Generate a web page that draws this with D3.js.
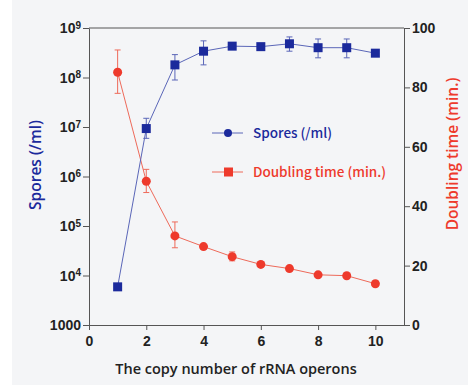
<!DOCTYPE html>
<html>
<head>
<meta charset="utf-8">
<script src="https://cdn.jsdelivr.net/npm/d3@7"></script>
<style>
  body { margin: 0; background: #ffffff; }
  svg { display: block; }
  .tick text { font-family: "Liberation Sans", Arial, sans-serif; font-weight: bold; font-size: 14px; fill: #222; }
  .axis path, .axis line { stroke: #555; stroke-width: 1; }
</style>
</head>
<body>
<div class="container"></div>
<script>
const container = d3.select(".container");

const W = 468, H = 385;
const margin = { top: 28, right: 64, bottom: 60, left: 89 };
const width = W - margin.left - margin.right,
    height = H - margin.top - margin.bottom;

// copy number of rRNA operons
const operons = [1, 2, 3, 4, 5, 6, 7, 8, 9, 10];
// spores per ml, with lower / upper ends of the error bars (null = no bar visible)
const spores     = [5.9e3, 9.3e6, 1.8e8, 3.4e8, 4.3e8, 4.2e8, 4.8e8, 4.0e8, 4.0e8, 3.1e8];
const sporesLow  = [null,  5.9e6, 8.9e7, 1.8e8, null,  null,  3.4e8, 2.5e8, 2.5e8, null];
const sporesHigh = [null,  1.5e7, 2.9e8, 5.5e8, null,  null,  6.6e8, 6.0e8, 6.0e8, null];
// doubling time (min.)
const doubling     = [85.1, 48.4, 30.0, 26.4, 23.0, 20.4, 19.0, 16.9, 16.6, 13.9];
const doublingLow  = [78,   44.6, 26,   null, 21.6, null, null, null, null, null];
const doublingHigh = [92.6, 52.4, 34.7, null, 24.6, null, null, null, null, null];

const xTicks = [0, 2, 4, 6, 8, 10];
const leftTicks = [1e3, 1e4, 1e5, 1e6, 1e7, 1e8, 1e9];
const rightTicks = [0, 20, 40, 60, 80, 100];

const blue = "#1b2a9c", blueLine = "#5a66b8";
const red = "#ee3a2c", redLine = "#ee6a5a";

const svg = container
    .append("svg")
    .attr("width", W)
    .attr("height", H);

svg.append("rect").attr("width", W).attr("height", H).attr("fill", "#f4f5f7");
svg.append("rect").attr("width", 12).attr("height", H).attr("fill", "#ffffff");

const g = svg.append("g")
    .attr("transform", `translate(${margin.left}, ${margin.top})`);

// SCALES
const x = d3.scaleLinear().domain([0, 11]).range([0, width]);
const yL = d3.scaleLog().domain([1e3, 1e9]).range([height, 0]);
const yR = d3.scaleLinear().domain([0, 100]).range([height, 0]);

// AXES
g.append("g")
    .attr("class", "axis")
    .attr("transform", `translate(0, ${height})`)
    .call(d3.axisBottom(x).tickValues(xTicks).tickSize(5).tickSizeOuter(0).tickPadding(6));

const leftAxis = g.append("g")
    .attr("class", "axis")
    .call(d3.axisLeft(yL).tickValues(leftTicks).tickSize(6).tickSizeOuter(0).tickFormat(""));

// superscript labels on the log axis
leftAxis.selectAll(".tick").each(function (d) {
    const t = d3.select(this).append("text")
        .attr("x", -8)
        .attr("dy", "0.35em")
        .attr("text-anchor", "end");
    const e = Math.round(Math.log10(d));
    if (e === 3) {
        t.text("1000");
    } else {
        t.append("tspan").text("10");
        t.append("tspan").attr("dy", "-0.45em").attr("font-size", "10px").text(e);
    }
});

g.append("g")
    .attr("class", "axis")
    .attr("transform", `translate(${width}, 0)`)
    .call(d3.axisRight(yR).tickValues(rightTicks).tickSize(6).tickSizeOuter(0).tickPadding(2));

// top border
g.append("line")
    .attr("x1", 0).attr("x2", width)
    .attr("y1", 0).attr("y2", 0)
    .attr("stroke", "#555");

// AXIS TITLES
svg.append("text")
    .attr("transform", `translate(41, 165) rotate(-90)`)
    .attr("text-anchor", "middle")
    .attr("font-family", "Open Sans, sans-serif")
    .attr("font-weight", 600)
    .attr("font-size", 15.5)
    .attr("fill", blue)
    .text("Spores (/ml)");

svg.append("text")
    .attr("transform", `translate(458, 154) rotate(-90)`)
    .attr("text-anchor", "middle")
    .attr("font-family", "Open Sans, sans-serif")
    .attr("font-weight", 600)
    .attr("font-size", 15.5)
    .attr("fill", red)
    .text("Doubling time (min.)");

svg.append("text")
    .attr("x", 236).attr("y", 374)
    .attr("text-anchor", "middle")
    .attr("font-family", "Open Sans, sans-serif")
    .attr("font-weight", 600)
    .attr("font-size", 14.5)
    .attr("fill", "#222")
    .text("The copy number of rRNA operons");

// DOUBLING TIME (red circles, right axis)
const dt = operons.map((o, i) => ({ x: o, v: doubling[i], lo: doublingLow[i], hi: doublingHigh[i] }));

g.append("path")
    .datum(dt)
    .attr("fill", "none")
    .attr("stroke", redLine)
    .attr("stroke-width", 1)
    .attr("d", d3.line().x(d => x(d.x)).y(d => yR(d.v)));

const dtErr = g.selectAll(".dterr").data(dt.filter(d => d.lo !== null)).enter().append("g");
dtErr.append("line")
    .attr("x1", d => x(d.x)).attr("x2", d => x(d.x))
    .attr("y1", d => yR(d.lo)).attr("y2", d => yR(d.hi))
    .attr("stroke", redLine);
dtErr.selectAll(".cap").data(d => [[d.x, d.lo], [d.x, d.hi]]).enter().append("line")
    .attr("x1", d => x(d[0]) - 3).attr("x2", d => x(d[0]) + 3)
    .attr("y1", d => yR(d[1])).attr("y2", d => yR(d[1]))
    .attr("stroke", redLine);

g.selectAll(".dtpt").data(dt).enter().append("circle")
    .attr("cx", d => x(d.x))
    .attr("cy", d => yR(d.v))
    .attr("r", 4.5)
    .attr("fill", red);

// SPORES (blue squares, left log axis)
const sp = operons.map((o, i) => ({ x: o, v: spores[i], lo: sporesLow[i], hi: sporesHigh[i] }));

g.append("path")
    .datum(sp)
    .attr("fill", "none")
    .attr("stroke", blueLine)
    .attr("stroke-width", 1)
    .attr("d", d3.line().x(d => x(d.x)).y(d => yL(d.v)));

const spErr = g.selectAll(".sperr").data(sp.filter(d => d.lo !== null)).enter().append("g");
spErr.append("line")
    .attr("x1", d => x(d.x)).attr("x2", d => x(d.x))
    .attr("y1", d => yL(d.lo)).attr("y2", d => yL(d.hi))
    .attr("stroke", blueLine);
spErr.selectAll(".cap").data(d => [[d.x, d.lo], [d.x, d.hi]]).enter().append("line")
    .attr("x1", d => x(d[0]) - 3).attr("x2", d => x(d[0]) + 3)
    .attr("y1", d => yL(d[1])).attr("y2", d => yL(d[1]))
    .attr("stroke", blueLine);

g.selectAll(".sppt").data(sp).enter().append("rect")
    .attr("x", d => x(d.x) - 4.5)
    .attr("y", d => yL(d.v) - 4.5)
    .attr("width", 9)
    .attr("height", 9)
    .attr("fill", blue);

// LEGEND
const legend = svg.append("g").attr("transform", "translate(212, 0)");
const items = [
    { label: "Spores (/ml)", color: blue, line: blueLine, shape: "circle", y: 133 },
    { label: "Doubling time (min.)", color: red, line: redLine, shape: "square", y: 172 }
];
items.forEach(it => {
    legend.append("line")
        .attr("x1", 0).attr("x2", 31)
        .attr("y1", it.y).attr("y2", it.y)
        .attr("stroke", it.line);
    if (it.shape === "circle") {
        legend.append("circle").attr("cx", 16).attr("cy", it.y).attr("r", 4).attr("fill", it.color);
    } else {
        legend.append("rect").attr("x", 12).attr("y", it.y - 4.5).attr("width", 9).attr("height", 9).attr("fill", it.color);
    }
    legend.append("text")
        .attr("x", 41).attr("y", it.y)
        .attr("dy", "0.35em")
        .attr("font-family", "Noto Sans CJK JP, Noto Sans, sans-serif")
        .attr("font-weight", 500)
        .attr("font-size", 13.5)
        .attr("fill", it.color)
        .text(it.label);
});
</script>
</body>
</html>
